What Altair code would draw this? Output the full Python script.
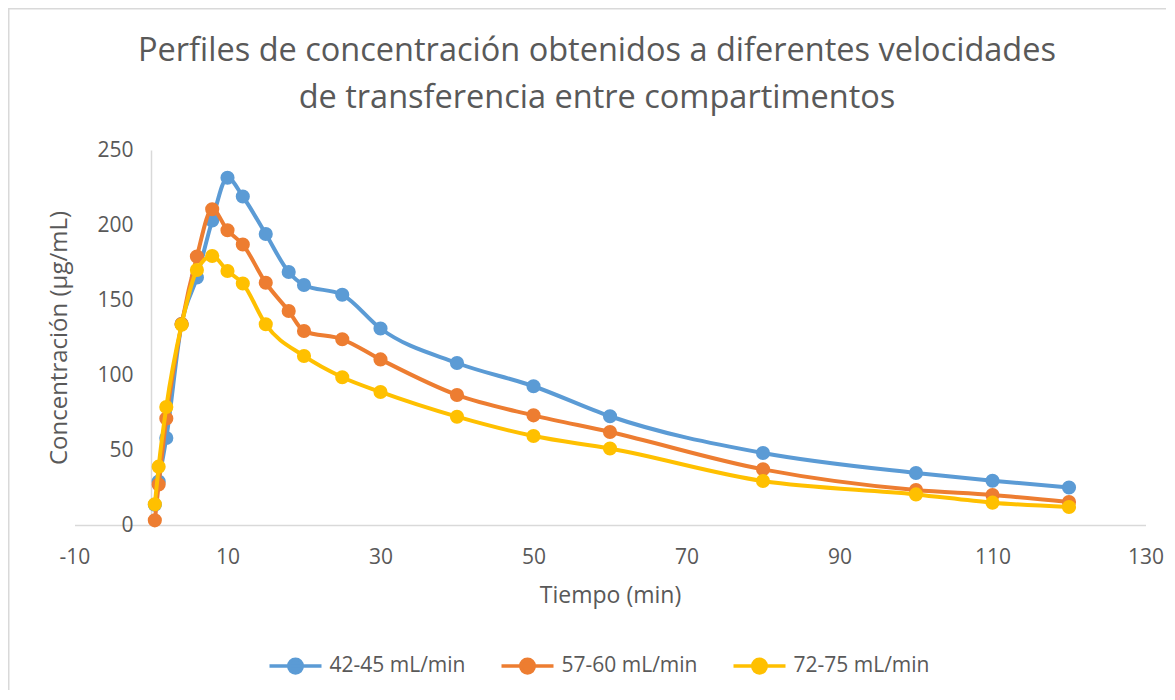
import altair as alt
import pandas as pd

series_names = ["42-45 mL/min", "57-60 mL/min", "72-75 mL/min"]
colors = ["#5B9BD5", "#ED7D31", "#FFC000"]

t_blue = [0.5, 1, 2, 4, 6, 8, 10, 12, 15, 18, 20, 25, 30, 40, 50, 60, 80, 100, 110, 120]
c_blue = [13.5, 29, 58, 134, 165, 203, 231.5, 219, 194, 168.7, 160, 153.5, 131, 108, 92.5, 72.5, 48, 34.7, 29.5, 25]

t_orange = [0.5, 1, 2, 4, 6, 8, 10, 12, 15, 18, 20, 25, 30, 40, 50, 60, 80, 100, 110, 120]
c_orange = [3.1, 27, 71, 134, 179, 210.5, 196.5, 187, 161.5, 142.7, 129.3, 123.8, 110.4, 86.7, 73.1, 62, 37.1, 23.3, 20, 15.3]

t_yellow = [0.5, 1, 2, 4, 6, 8, 10, 12, 15, 20, 25, 30, 40, 50, 60, 80, 100, 110, 120]
c_yellow = [13.8, 38.9, 78.7, 133.5, 170, 179.3, 169.3, 161, 133.8, 112.7, 98.5, 88.7, 72.2, 59.3, 51, 29.3, 20.4, 14.9, 12]

x_ticks = [-10, 10, 30, 50, 70, 90, 110, 130]
y_ticks = [0, 50, 100, 150, 200, 250]

title_lines = ["Perfiles de concentración obtenidos a diferentes velocidades",
               "de transferencia entre compartimentos"]

rows = []
for name, ts, cs in [(series_names[0], t_blue, c_blue),
                     (series_names[1], t_orange, c_orange),
                     (series_names[2], t_yellow, c_yellow)]:
    for t, c in zip(ts, cs):
        rows.append({"serie": name, "tiempo": t, "conc": c})
df = pd.DataFrame(rows)

FONT = "Open Sans"
TXT = "#595959"
GRID = "#D9D9D9"

# legend symbol: short line with a dot in the middle
sym_path = ("M -1 0 L 1 0 M 0.26 0 A 0.26 0.26 0 1 1 -0.26 0 "
            "A 0.26 0.26 0 1 1 0.26 0 Z")

xscale = alt.Scale(domain=[-10, 130], nice=False, zero=False)
yscale = alt.Scale(domain=[0, 250], nice=False)
cscale = alt.Scale(domain=series_names, range=colors)

x_enc = alt.X("tiempo:Q", scale=xscale,
              axis=alt.Axis(values=x_ticks, title="Tiempo (min)", grid=False,
                            ticks=False, domainColor=GRID, domainWidth=1.5,
                            labelExpr="'' + datum.value",
                            labelFont=FONT, labelFontSize=21, labelColor=TXT,
                            labelPadding=21, titleFont=FONT, titleFontSize=23,
                            titleFontWeight="normal", titleColor=TXT,
                            titlePadding=17, labelFlush=False))
y_enc = alt.Y("conc:Q", scale=yscale,
              axis=alt.Axis(values=y_ticks, title="Concentración (µg/mL)",
                            grid=False, ticks=False, offset=-76.5,
                            domainColor=GRID, domainWidth=1.5,
                            labelFont=FONT, labelFontSize=21, labelColor=TXT,
                            labelPadding=18, titleFont=FONT, titleFontSize=24,
                            titleFontWeight="normal", titleColor=TXT,
                            titlePadding=25, labelFlush=False))

legend = alt.Legend(orient="none", legendX=193, legendY=488,
                    direction="horizontal", title=None,
                    symbolType=sym_path, symbolSize=2704,
                    symbolStrokeWidth=3.5, labelFont=FONT, labelFontSize=21,
                    labelColor=TXT, labelOffset=6, columnPadding=29)

# outer chart frame (decorative)
frame = alt.Chart(pd.DataFrame({"k": [0]})).mark_rect(
    fill="transparent", stroke=GRID, strokeWidth=1.5, clip=False).encode(
    x=alt.value(-65.75), x2=alt.value(1200),
    y=alt.value(-141.25), y2=alt.value(700))

layers = [frame]
for name in series_names:
    base = alt.Chart(df).transform_filter(alt.datum.serie == name)
    line = base.mark_line(strokeWidth=4, interpolate="monotone").encode(
        x=x_enc, y=y_enc,
        color=alt.Color("serie:N", scale=cscale, legend=legend))
    pts = base.mark_point(filled=True, size=200, opacity=1).encode(
        x=x_enc, y=y_enc,
        color=alt.Color("serie:N", scale=cscale, legend=legend))
    layers += [line, pts]

chart = alt.layer(*layers).properties(
    width=1071, height=375,
    background="white",
    autosize=alt.AutoSizeParams(type="none"),
    padding={"left": 66.5, "top": 142, "right": 20, "bottom": 165},
    title=alt.Title(text=title_lines, font=FONT, fontSize=32.5,
                    fontWeight="normal", color=TXT, anchor="middle",
                    dx=-13, dy=133, offset=27, lineHeight=47),
).configure_view(stroke="transparent", strokeWidth=0)

chart.save("out.html", embed_options={"renderer": "svg", "actions": False})
